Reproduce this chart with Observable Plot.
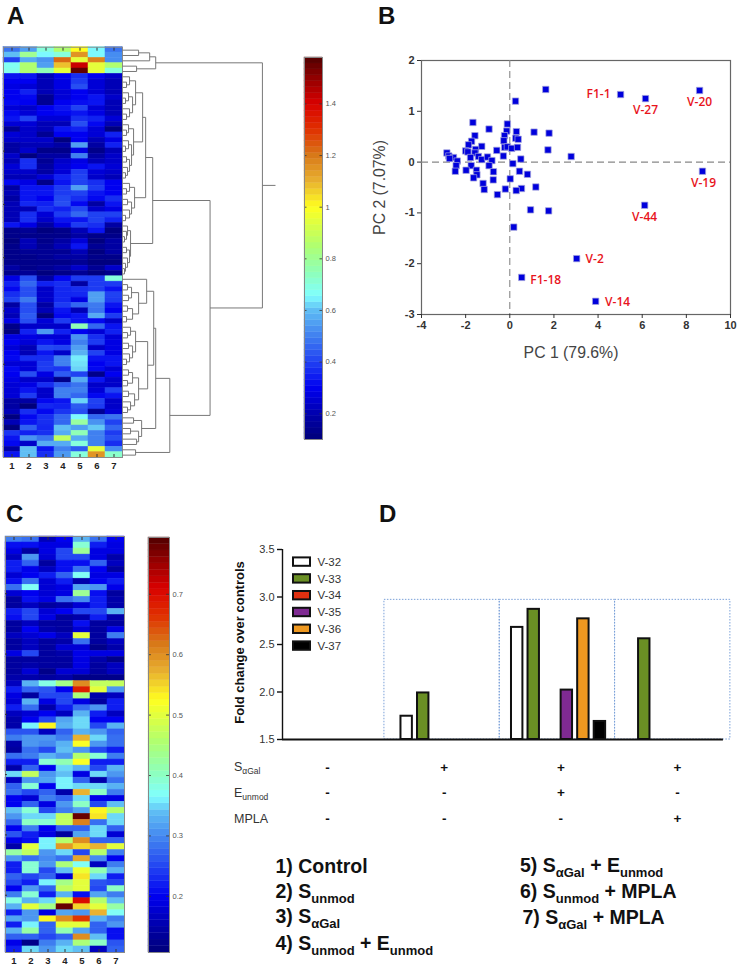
<!DOCTYPE html>
<html><head><meta charset="utf-8">
<script src="https://cdn.jsdelivr.net/npm/d3@7"></script>
<script src="https://cdn.jsdelivr.net/npm/@observablehq/plot@0.6"></script>
<style>
html,body{margin:0;padding:0;background:#fff;font-family:"Liberation Sans",Arial,sans-serif}
#page{position:relative;width:738px;height:971px;overflow:hidden}
.letter{position:absolute;font-weight:bold;font-size:24px;line-height:24px;color:#111}
.cond{position:absolute;font-size:12.5px;line-height:14px;color:#333;white-space:nowrap}
.cond sub{font-size:8.5px;line-height:0;vertical-align:-3px}
.leg{position:absolute;font-weight:bold;font-size:19.5px;line-height:20px;color:#111;white-space:nowrap}
.leg sub{font-size:13px;line-height:0;vertical-align:-5px}
</style></head><body><div id="page"></div>
<script>
// ---------- data ----------
const columns = [1,2,3,4,5,6,7];
const heatA = [
[.48,.55,.7,.85,1.0,.65,.48],[.6,.8,.65,.7,1.15,.65,.52],[.4,.57,.53,1.22,.95,1.18,.52],[.67,.85,.55,1.08,1.42,.95,.85],[.68,.85,.75,.95,1.56,.95,.7],
[.33,.33,.21,.3,.37,.3,.24],[.3,.3,.21,.28,.39,.26,.21],[.28,.26,.21,.28,.42,.26,.21],[.3,.35,.21,.26,.3,.26,.21],[.3,.31,.15,.26,.3,.33,.24],
[.31,.3,.15,.3,.32,.33,.21],[.26,.24,.3,.33,.4,.26,.21],[.31,.26,.3,.31,.33,.28,.21],[.33,.4,.26,.26,.37,.35,.26],[.26,.26,.21,.21,.42,.31,.21],
[.15,.24,.21,.33,.35,.26,.11],[.26,.24,.15,.3,.3,.26,.35],[.24,.24,.24,.11,.3,.21,.28],[.18,.21,.21,.18,.55,.18,.35],[.18,.24,.13,.13,.28,.13,.21],
[.24,.11,.18,.18,.5,.18,.24],[.21,.37,.15,.24,.28,.21,.24],[.26,.37,.18,.26,.3,.33,.26],[.24,.24,.18,.26,.39,.26,.24],[.21,.21,.26,.35,.4,.24,.21],
[.31,.28,.13,.33,.4,.37,.3],[.18,.33,.33,.39,.55,.39,.3],[.21,.33,.33,.39,.4,.33,.3],[.18,.33,.3,.41,.37,.31,.37],[.21,.36,.35,.42,.31,.18,.33],
[.21,.21,.37,.35,.41,.24,.28],[.21,.37,.26,.39,.46,.4,.4],[.21,.37,.24,.33,.33,.4,.35],[.33,.28,.18,.28,.39,.37,.18],[.13,.15,.11,.13,.21,.33,.11],
[.13,.13,.13,.13,.18,.13,.13],[.11,.21,.13,.18,.26,.11,.18],[.13,.21,.15,.21,.33,.15,.18],[.13,.15,.15,.15,.21,.11,.18],[.13,.13,.15,.18,.18,.13,.13],
[.13,.13,.13,.13,.15,.11,.11],[.18,.13,.15,.18,.24,.15,.24],[.13,.15,.11,.13,.15,.11,.13],[.28,.42,.18,.31,.39,.39,.7],[.35,.46,.35,.37,.18,.39,.39],
[.31,.42,.24,.36,.37,.39,.33],[.37,.42,.24,.36,.36,.55,.4],[.4,.49,.24,.36,.28,.55,.39],[.18,.42,.18,.39,.46,.49,.33],[.24,.42,.21,.33,.21,.48,.3],
[.21,.44,.11,.31,.33,.57,.39],[.28,.42,.26,.39,.33,.31,.24],[.13,.24,.24,.24,.75,.46,.33],[.11,.35,.54,.35,.3,.26,.35],[.28,.28,.26,.26,.53,.37,.26],
[.3,.26,.33,.28,.5,.39,.28],[.26,.21,.41,.4,.55,.24,.28],[.3,.21,.33,.24,.58,.4,.28],[.31,.37,.37,.5,.64,.33,.33],[.26,.26,.39,.5,.63,.3,.33],
[.31,.26,.39,.38,.62,.31,.26],[.3,.42,.28,.44,.4,.13,.3],[.28,.24,.24,.13,.57,.33,.24],[.26,.28,.37,.44,.48,.24,.24],[.26,.33,.24,.5,.5,.26,.4],
[.26,.39,.24,.5,.46,.31,.33],[.18,.18,.31,.33,.62,.4,.24],[.18,.1,.36,.35,.44,.39,.24],[.21,.37,.31,.38,.42,.15,.26],[.11,.31,.37,.46,.65,.46,.48],
[.21,.33,.37,.46,.78,.53,.4],[.11,.45,.36,.6,.55,.61,.46],[.38,.35,.37,.57,.75,.5,.39],[.33,.53,.48,.88,.57,.5,.42],[.31,.24,.57,.57,.7,.5,.37],
[.18,.6,.33,.5,.44,.95,.52],[.33,.6,.37,.54,.7,1.15,.72]];
const heatC = [
[.29,.28,.16,.2,.33,.28,.2],[.21,.21,.19,.19,.39,.22,.19],[.19,.14,.19,.25,.43,.19,.19],[.165,.31,.18,.25,.25,.19,.15],[.22,.27,.14,.21,.21,.27,.165],
[.22,.195,.165,.21,.28,.2,.14],[.18,.2,.22,.27,.37,.19,.19],[.21,.28,.18,.22,.15,.2,.22],[.28,.37,.18,.19,.32,.31,.195],[.18,.2,.18,.19,.43,.21,.14],
[.14,.21,.19,.28,.3,.22,.15],[.14,.165,.14,.15,.18,.22,.15],[.22,.25,.18,.2,.25,.25,.33],[.21,.25,.19,.14,.15,.22,.15],[.14,.165,.14,.14,.21,.14,.14],
[.14,.2,.15,.14,.18,.14,.19],[.165,.18,.195,.165,.5,.14,.29],[.14,.165,.14,.15,.28,.14,.165],[.14,.165,.14,.18,.18,.12,.15],[.19,.25,.14,.15,.195,.19,.19],
[.14,.14,.14,.14,.19,.15,.12],[.14,.15,.14,.14,.19,.14,.165],[.14,.18,.12,.18,.18,.14,.165],[.15,.15,.14,.15,.12,.12,.12],[.165,.33,.38,.44,.6,.47,.47],
[.22,.27,.26,.2,.68,.5,.31],[.19,.14,.25,.25,.45,.15,.165],[.18,.33,.19,.25,.19,.14,.22],[.22,.28,.15,.22,.28,.31,.22],[.165,.18,.2,.165,.33,.22,.165],
[.15,.2,.25,.32,.35,.2,.2],[.15,.36,.53,.33,.35,.25,.33],[.26,.26,.165,.27,.33,.31,.27],[.29,.31,.31,.29,.57,.35,.28],[.15,.31,.3,.33,.52,.31,.28],
[.14,.28,.25,.34,.31,.25,.22],[.28,.29,.33,.31,.46,.39,.29],[.22,.22,.39,.41,.52,.22,.22],[.15,.27,.2,.35,.33,.25,.33],[.35,.47,.31,.34,.19,.35,.31],
[.165,.31,.32,.36,.27,.15,.28],[.27,.39,.2,.36,.35,.35,.33],[.28,.25,.27,.15,.57,.4,.29],[.2,.18,.29,.27,.35,.195,.19],[.2,.27,.19,.31,.4,.25,.34],
[.34,.39,.25,.29,.32,.53,.46],[.31,.35,.35,.47,.78,.54,.35],[.27,.4,.39,.47,.61,.28,.35],[.2,.29,.2,.27,.27,.35,.27],[.26,.22,.19,.14,.32,.35,.18],
[.195,.21,.36,.46,.6,.27,.27],[.15,.5,.36,.59,.55,.57,.5],[.42,.47,.31,.35,.25,.46,.29],[.31,.28,.3,.28,.58,.3,.2],[.22,.39,.31,.45,.37,.165,.29],
[.22,.39,.25,.34,.51,.41,.33],[.27,.25,.27,.18,.54,.35,.22],[.25,.22,.36,.44,.5,.26,.25],[.2,.31,.27,.47,.5,.25,.4],[.29,.39,.22,.33,.21,.32,.29],
[.38,.33,.35,.5,.7,.46,.34],[.33,.5,.44,.78,.55,.5,.42],[.22,.31,.19,.32,.31,.57,.37],[.32,.31,.53,.6,.66,.33,.29],[.22,.36,.27,.5,.5,.27,.31],
[.33,.42,.27,.41,.32,.27,.21],[.27,.27,.25,.27,.6,.34,.21],[.195,.12,.29,.33,.45,.4,.26],[.22,.35,.31,.35,.34,.165,.27]];
const stopT = [0,.06,.135,.2,.27,.34,.375,.44,.507,.608,.676,.743,.81,.878,.946,1];
const stopColor = ["#00007a","#0000a8","#0000f0","#1f3ff2","#4080f0","#60c0f4","#80ffff","#90ffb4","#b0ff70","#ffff20","#e8b030","#d87818","#e03000","#d80000","#900000","#500000"];
const domainA = [.1,1.58], domainC = [.107,.794];
const ticksA = [.2,.4,.6,.8,1,1.2,1.4];
const ticksC = [.2,.3,.4,.5,.6,.7];
// dendrogram of panel A: [distance, child, child], a bare number is a row of the heat map
const treeA = [139,
 [33,[27,[16,0,1],2],[14,3,4]],
 [87,
  [30,
   [23,
    [20,
     [13,[7,5,[4,6,7]],[10,[6,8,[3,9,10]],[7,11,[4,12,13]]]],
     [11,[6,14,[4,15,16]],[9,[6,17,[3,18,19]],[7,[4,20,21],[5,22,[3,23,24]]]]]],
    [12,[7,25,[4,26,27]],[9,[5,28,29],[7,30,[3,31,32]]]]],
   [8,[5,33,[4,34,[2,35,36]]],[7,[4,37,38],[5,39,[3,40,[2,41,42]]]]]],
  [47,
   [33,
    [31,
     [24,43,[16,[9,[5,44,45],[6,46,47]],[10,[5,48,49],[4,50,51]]]],
     [25,[13,[8,52,[5,53,54]],[10,[6,55,56],[7,57,[4,58,59]]]],
         [16,[10,[6,60,61],[5,62,63]],[12,[6,64,65],[8,66,[5,67,68]]]]]],
    [19,[11,69,70],[16,[8,71,72],[14,73,74]]]],
   [13,75,76]]]];
const rootStemEnd = 152;
// panel B
const pcaX = [1.63,.26,-1.67,-.94,-.11,-.14,.3,1.1,1.78,-1.58,-.24,.27,.38,-.27,-1.73,-1.87,-1.27,-.23,-.11,.09,.35,1.73,2.78,-1.55,-.59,-2,-1.9,-1.58,-.29,-2.85,-2.76,-2.55,-2.73,-2.38,-1.42,-1.78,-1.27,-1.01,-.81,.5,.14,-2.43,-2.47,-1.75,-.94,-1.51,-1.98,-.74,.44,-1.49,-1.64,.8,-.75,.02,-1.21,-1.16,1.18,.53,-.2,.29,-.56,.94,1.76,.18];
const pcaY = [1.43,1.2,.78,.65,.75,.61,.6,.59,.57,.52,.52,.47,.45,.42,.41,.34,.31,.29,.3,.27,.29,.24,.11,.25,.23,.22,.2,.18,.12,.18,.12,.09,.07,.02,.11,.09,.05,.1,.03,.06,-.03,-.07,-.18,-.07,-.07,-.16,-.16,-.19,-.18,-.25,-.31,-.24,-.35,-.33,-.42,-.54,-.49,-.52,-.53,-.56,-.64,-.94,-.96,-1.28];
const labelNames = ["F1-1","V-27","V-20","V-19","V-44","V-2","F1-18","V-14"];
const labelX = [5.02,6.15,8.6,8.73,6.11,3.03,.54,3.89];
const labelY = [1.33,1.25,1.41,-.18,-.85,-1.9,-2.27,-2.74];
// panel D
const seriesNames = ["V-32","V-33","V-34","V-35","V-36","V-37"];
const seriesColors = ["#ffffff","#6a8f24","#e03010","#7f2a92","#ee9820","#000000"];
const foldChange = [
 [null,1.745,2.68,null],
 [null,1.99,2.87,2.56],
 [null,null,null,null],
 [null,null,2.02,null],
 [null,null,2.77,null],
 [null,null,1.69,null]];
const groups = [0,1,2,3];
const conditionRows = ["SαGal","Eunmod","MPLA"];
const conditionSigns = [["-","+","+","+"],["-","-","+","-"],["-","-","-","+"]];
const legendLines = ["1) Control","2) S<sub>unmod</sub>","3) S<sub>αGal</sub>","4) S<sub>unmod</sub> + E<sub>unmod</sub>",
 "5) S<sub>αGal</sub> + E<sub>unmod</sub>","6) S<sub>unmod</sub> + MPLA","7) S<sub>αGal</sub> + MPLA"];

// ---------- helpers ----------
const page = document.getElementById("page");
const font = '"Liberation Sans",Arial,sans-serif';
function place(svg,left,top){svg.style.left=left+"px";svg.style.top=top+"px";svg.style.position="absolute";svg.style.background="none";svg.style.overflow="visible";page.appendChild(svg);}
function html(cls,inner,left,top){const d=document.createElement("div");d.className=cls;d.innerHTML=inner;d.style.left=left+"px";d.style.top=top+"px";page.appendChild(d);}
const colorScale = dom => ({type:"linear",domain:stopT.map(t=>dom[0]+t*(dom[1]-dom[0])),range:stopColor,clamp:true});
const longForm = m => m.flatMap((row,r)=>row.map((v,c)=>({r,col:columns[c],v})));

function heat(matrix,dom,left,top,w,h,mt){
  const rows=d3.range(matrix.length);
  place(Plot.plot({width:w+6,height:h+mt+22,marginLeft:3,marginRight:3,marginTop:mt,marginBottom:22,
    style:{fontFamily:font,background:"none"},
    x:{type:"band",domain:columns,padding:0,round:false,axis:null,label:null},
    y:{type:"band",domain:rows,padding:0,round:false,axis:null,label:null},
    color:colorScale(dom),
    marks:[
      Plot.cell(longForm(matrix),{x:"col",y:"r",fill:"v",stroke:"v",strokeWidth:.5}),
      Plot.frame({stroke:"#8a8a8a",strokeWidth:1}),
      Plot.axisX(columns,{anchor:"bottom",tickSize:-3,text:null,stroke:"#333",label:null}),
      Plot.axisX(columns,{anchor:"top",tickSize:-3,text:null,stroke:"#333",label:null}),
      Plot.axisX({anchor:"bottom",tickSize:0,tickPadding:5,fontSize:9.5,fontWeight:"bold",fill:"#222",label:null}),
      Plot.axisY(rows.filter(r=>r%10===9),{anchor:"left",tickSize:-2,text:null,stroke:"#333",label:null})
    ]}),left-3,top-mt);
}
function colorbar(dom,ticks,left,top,w,h,fmt,fs){
  const levels=d3.range(64).map(i=>{const s=(dom[1]-dom[0])/64;return{lo:dom[0]+i*s,hi:dom[0]+(i+1)*s,mid:dom[0]+(i+.5)*s};});
  place(Plot.plot({width:w+30,height:h,marginLeft:0,marginRight:30,marginTop:0,marginBottom:0,
    style:{fontFamily:font,background:"none"},
    x:{domain:[0,1],axis:null},y:{domain:dom,axis:null},color:colorScale(dom),
    marks:[
      Plot.rect(levels,{x1:0,x2:1,y1:"lo",y2:"hi",fill:"mid",stroke:"mid",strokeWidth:.4}),
      Plot.ruleY(ticks,{x1:0,x2:.14,stroke:"#333",strokeWidth:.8}),
      Plot.ruleY(ticks,{x1:.86,x2:1,stroke:"#333",strokeWidth:.8}),
      Plot.frame({stroke:"#888"}),
      Plot.axisY(ticks,{anchor:"right",tickSize:0,tickPadding:3,fontSize:fs,fill:"#555",tickFormat:fmt,label:null})
    ]}),left,top);
}
// dendrogram segments are worked out from the nested merges
function segments(tree){
  const out=[];
  const walk=n=>{
    if(typeof n==="number")return{h:0,y:n+.5};
    const a=walk(n[1]),b=walk(n[2]);
    out.push({x1:n[0],y1:a.y,x2:n[0],y2:b.y},{x1:a.h,y1:a.y,x2:n[0],y2:a.y},{x1:b.h,y1:b.y,x2:n[0],y2:b.y});
    return{h:n[0],y:(a.y+b.y)/2};
  };
  const root=walk(tree);
  out.push({x1:root.h,y1:root.y,x2:rootStemEnd,y2:root.y});
  return out;
}

// ---------- panel A ----------
heat(heatA,domainA,3,46.7,119,410.3,6.7);
place(Plot.plot({width:153,height:410.3,margin:0,style:{background:"none"},
  x:{domain:[0,rootStemEnd],axis:null},y:{domain:[0,heatA.length],reverse:true,axis:null},
  marks:[Plot.link(segments(treeA),{x1:"x1",y1:"y1",x2:"x2",y2:"y2",stroke:"#777",strokeWidth:1})]}),122,46.7);
colorbar(domainA,ticksA,304,57,18,382,d=>d3.format("~g")(d),7.5);

// ---------- panel B ----------
const pts=pcaX.map((x,i)=>({x,y:pcaY[i]}));
const labelled=labelNames.map((name,i)=>({name,x:labelX[i],y:labelY[i]}));
const labelDx={"F1-1":-22,"V-2":18,"F1-18":24,"V-14":22,"V-19":1};
const labelDy={"V-27":12,"V-20":12,"V-19":12,"V-44":12,"F1-18":3,"V-14":1,"V-2":1};
place(Plot.plot({width:358,height:370,marginLeft:41,marginRight:8,marginTop:60,marginBottom:56,
  style:{fontFamily:font,background:"none",color:"#333"},
  x:{domain:[-4,10],axis:null},y:{domain:[-3,2],axis:null},
  marks:[
    Plot.frame({stroke:"#666",strokeWidth:1.2}),
    Plot.ruleX([0],{stroke:"#888",strokeDasharray:"7,4",strokeWidth:1.1}),
    Plot.ruleY([0],{stroke:"#888",strokeDasharray:"7,4",strokeWidth:1.1}),
    Plot.axisX({anchor:"bottom",ticks:d3.range(-4,11,2),tickSize:4,tickPadding:3,fontSize:11,fontWeight:600,label:null,tickFormat:d=>d}),
    Plot.axisY({anchor:"left",ticks:d3.range(-3,3),tickSize:4,tickPadding:3,fontSize:11,fontWeight:600,label:null,tickFormat:d=>d}),
    Plot.text(["PC 1 (79.6%)"],{frameAnchor:"bottom",dy:43,dx:-5,fontSize:15.8,fill:"#444"}),
    Plot.text(["PC 2 (7.07%)"],{frameAnchor:"left",textAnchor:"middle",dx:-42,rotate:-90,fontSize:15.8,fill:"#444"}),
    Plot.dot(pts,{x:"x",y:"y",symbol:"square",r:3.6,fill:"#0000dc",stroke:"#a8a8dc",strokeWidth:.7}),
    Plot.dot(labelled,{x:"x",y:"y",symbol:"square",r:3.6,fill:"#0000dc",stroke:"#a8a8dc",strokeWidth:.7}),
    ...labelled.map(d=>Plot.text([d],{x:"x",y:"y",text:"name",dx:labelDx[d.name]||0,dy:labelDy[d.name]||0,fill:"#e8141c",fontWeight:600,fontSize:12,fontFamily:'"Open Sans",sans-serif'}))
  ]}),380,0);

// ---------- panel C ----------
heat(heatC,domainC,5,536,119,416,6);
colorbar(domainC,ticksC,148,537,21,415,d=>d3.format(".1f")(d),7.5);

// ---------- panel D ----------
const slotGroup=g=>.48+6.68*g;
const bars=foldChange.flatMap((vals,s)=>vals.map((v,g)=>({s,g,v}))).filter(d=>d.v!=null);
const boxes=[0,1,2].map(i=>({a:6.16+i*6.97,b:6.16+(i+1)*6.97}));
place(Plot.plot({width:508,height:210,marginLeft:52,marginRight:1,marginTop:9,marginBottom:11,
  style:{fontFamily:font,background:"none"},
  x:{domain:[0,27.5],axis:null},y:{domain:[1.5,3.5],axis:null},
  marks:[
    Plot.rect(boxes,{x1:"a",x2:"b",y1:1.5,y2:2.97,stroke:"#7aa0d8",strokeDasharray:"1.5,1.5",strokeWidth:1,fill:"none"}),
    Plot.rect(bars,{x1:d=>slotGroup(d.g)+d.s,x2:d=>slotGroup(d.g)+d.s+.69,y1:1.5,y2:"v",fill:d=>seriesColors[d.s],stroke:"#111",strokeWidth:2}),
    Plot.ruleY([1.5],{x1:0,x2:26.65,stroke:"#111",strokeWidth:1.8}),
    Plot.ruleX([0],{y1:1.5,y2:3.5,stroke:"#111",strokeWidth:1.4}),
    Plot.axisY({anchor:"left",ticks:[1.5,2,2.5,3,3.5],tickSize:5,tickPadding:3,fontSize:11,fill:"#333",stroke:"#111",strokeWidth:1.4,label:null,tickFormat:d3.format(".1f")}),
    Plot.text(["Fold change over controls"],{frameAnchor:"left",textAnchor:"middle",dx:-43,dy:-2,rotate:-90,fontSize:13,fontWeight:"bold",fill:"#111"})
  ]}),230,540);
// legend of D
place(Plot.plot({width:70,height:109.2,marginLeft:3,marginRight:50,marginTop:0,marginBottom:0,
  style:{fontFamily:font,background:"none"},
  x:{domain:[0,1],axis:null},y:{type:"band",domain:seriesNames,padding:.5,round:false,axis:null},
  marks:[
    Plot.barX(seriesNames,{x1:0,x2:1,y:d=>d,fill:(d,i)=>seriesColors[i],stroke:"#111",strokeWidth:2}),
    Plot.axisY({anchor:"right",tickSize:0,tickPadding:7,fontSize:11.5,fill:"#333",label:null})
  ]}),290,549);
// condition table
const signs=conditionSigns.flatMap((row,r)=>row.map((s,g)=>({row:conditionRows[r],g:groups[g],s})));
place(Plot.plot({width:508,height:80,margin:0,style:{fontFamily:font,background:"none"},
  x:{type:"point",domain:groups,range:[97,447],padding:0,round:false,axis:null},
  y:{type:"point",domain:conditionRows,range:[17,68],padding:0,round:false,axis:null},
  marks:[Plot.text(signs,{x:"g",y:"row",text:"s",fontWeight:"bold",fontSize:13.5,fill:"#111"})]}),230,750);
html("cond",'S<sub>αGal</sub>',234,760);
html("cond",'E<sub>unmod</sub>',234,786);
html("cond",'MPLA',234,812);

// numbered conditions
const legendPos=[[275.5,855.5],[275.5,880.5],[275.5,906],[275.5,932.5],[520,854.5],[520,880.5],[522.5,906.5]];
legendLines.forEach((l,i)=>html("leg",l,legendPos[i][0],legendPos[i][1]));

// panel letters
[["A",7,4],["B",378,4],["C",6,502],["D",379,502]].forEach(d=>html("letter",d[0],d[1],d[2]));
</script></body></html>
